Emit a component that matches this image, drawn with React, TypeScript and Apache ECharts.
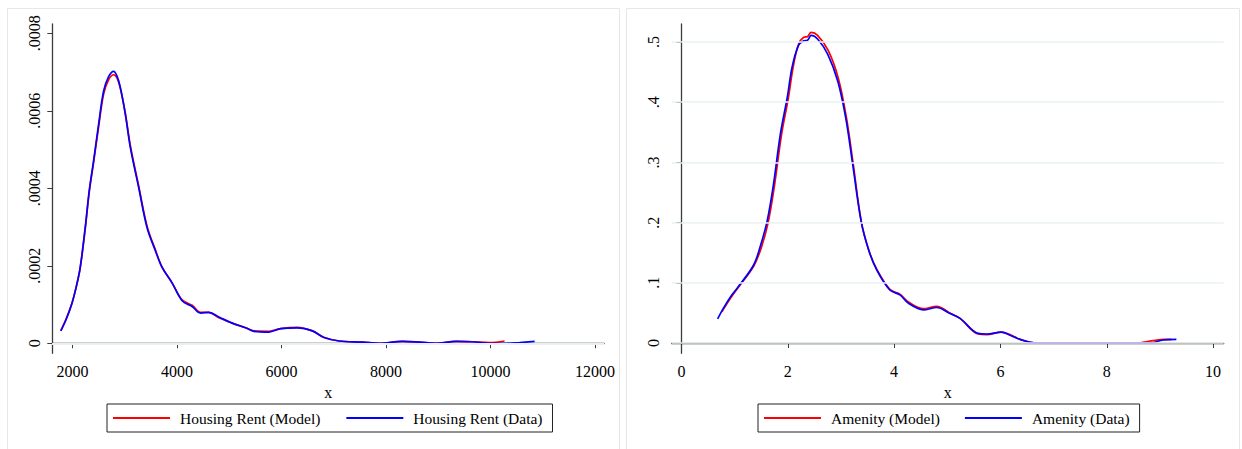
import React, { useEffect, useRef } from "react";
import * as echarts from "echarts";

// ---- Data ----
const rentXTicks = [2000, 4000, 6000, 8000, 10000, 12000];
const rentYTicks = [0, 0.0002, 0.0004, 0.0006, 0.0008];
const rentYLabels = ["0", ".0002", ".0004", ".0006", ".0008"];

const amenityXTicks = [0, 2, 4, 6, 8, 10];
const amenityYTicks = [0, 0.1, 0.2, 0.3, 0.4, 0.5];
const amenityYLabels = ["0", ".1", ".2", ".3", ".4", ".5"];

const housingRentData: number[][] = [
  [1776, 3.2e-5], [1880, 6.2e-5], [1987, 1.02e-4], [2070, 1.45e-4], [2147, 1.96e-4],
  [2243, 2.99e-4], [2320, 3.94e-4], [2403, 4.71e-4], [2499, 5.65e-4], [2595, 6.51e-4],
  [2690, 6.88e-4], [2786, 7.02e-4], [2850, 6.9e-4], [2915, 6.6e-4], [3011, 5.91e-4],
  [3107, 5.05e-4], [3266, 4.02e-4], [3425, 2.99e-4], [3586, 2.39e-4], [3713, 1.96e-4],
  [3905, 1.56e-4], [4097, 1.1e-4], [4288, 9.5e-5], [4449, 7.8e-5], [4608, 8.0e-5],
  [4800, 6.8e-5], [5056, 5.2e-5], [5312, 4.0e-5], [5472, 3.1e-5], [5759, 2.9e-5],
  [5984, 3.8e-5], [6302, 4.0e-5], [6590, 3.2e-5], [6814, 1.5e-5], [7102, 6e-6],
  [7549, 3e-6], [7869, 0], [8316, 5e-6], [8636, 3e-6], [8956, 0], [9340, 5e-6],
  [9659, 4e-6], [9979, 0], [10300, 0], [10555, 2e-6], [10843, 5e-6],
];

const housingRentModel: number[][] = [
  [1776, 3.3e-5], [1880, 6.4e-5], [1987, 1.03e-4], [2070, 1.45e-4], [2147, 1.94e-4],
  [2243, 2.95e-4], [2320, 3.9e-4], [2403, 4.66e-4], [2499, 5.58e-4], [2595, 6.43e-4],
  [2690, 6.8e-4], [2786, 6.93e-4], [2850, 6.85e-4], [2915, 6.58e-4], [3011, 5.93e-4],
  [3107, 5.1e-4], [3266, 4.06e-4], [3425, 3.03e-4], [3586, 2.41e-4], [3713, 1.97e-4],
  [3905, 1.56e-4], [4097, 1.12e-4], [4288, 9.8e-5], [4449, 8.0e-5], [4608, 8.0e-5],
  [4800, 6.6e-5], [5056, 5.2e-5], [5312, 4.0e-5], [5472, 3.2e-5], [5759, 3.1e-5],
  [5984, 3.8e-5], [6302, 4.1e-5], [6590, 3.2e-5], [6814, 1.5e-5], [7102, 6e-6],
  [7549, 3e-6], [7869, 0], [8316, 5e-6], [8636, 3e-6], [8956, 0], [9340, 5e-6],
  [9659, 4e-6], [9979, 2e-6], [10267, 6e-6],
];

const amenityData: number[][] = [
  [0.68, 0.04], [0.79, 0.058], [0.95, 0.08], [1.1, 0.097], [1.36, 0.13], [1.48, 0.16],
  [1.61, 0.202], [1.73, 0.263], [1.86, 0.347], [1.99, 0.408], [2.08, 0.458], [2.2, 0.494],
  [2.3, 0.502], [2.37, 0.503], [2.44, 0.511], [2.56, 0.505], [2.75, 0.48], [2.94, 0.435],
  [3.09, 0.374], [3.22, 0.297], [3.38, 0.202], [3.52, 0.155], [3.67, 0.122], [3.92, 0.088],
  [4.11, 0.08], [4.27, 0.066], [4.55, 0.055], [4.8, 0.059], [5.05, 0.049], [5.24, 0.041],
  [5.58, 0.016], [5.74, 0.015], [6.02, 0.018], [6.18, 0.013], [6.37, 0.006], [6.68, 0],
  [8.62, 0], [8.81, 0], [9.06, 0.005], [9.31, 0.006],
];

const amenityModel: number[][] = [
  [0.76, 0.052], [0.95, 0.078], [1.1, 0.096], [1.36, 0.128], [1.5, 0.158],
  [1.63, 0.2], [1.75, 0.262], [1.88, 0.345], [2.01, 0.407], [2.1, 0.458], [2.2, 0.496],
  [2.3, 0.508], [2.37, 0.509], [2.44, 0.516], [2.56, 0.511], [2.76, 0.486], [2.95, 0.44],
  [3.1, 0.376], [3.23, 0.298], [3.38, 0.203], [3.52, 0.155], [3.67, 0.123], [3.92, 0.089],
  [4.11, 0.081], [4.27, 0.068], [4.55, 0.057], [4.8, 0.061], [5.05, 0.05], [5.24, 0.041],
  [5.58, 0.015], [5.74, 0.014], [6.02, 0.018], [6.18, 0.014], [6.37, 0.006], [6.68, 0],
  [8.62, 0], [8.68, 0.001], [8.87, 0.004], [9.09, 0.006], [9.22, 0.006],
];

const FONT = "Liberation Serif";

function labelFor(ticks: number[], labels: string[]) {
  return (v: number) => {
    for (let i = 0; i < ticks.length; i++) {
      if (Math.abs(ticks[i] - v) < 1e-9) return labels[i];
    }
    return String(v);
  };
}

const axisLineStyle = { color: "#3c3c3c", width: 1.3 };

export default function App() {
  const ref = useRef<HTMLDivElement>(null);
  useEffect(() => {
    if (!ref.current) return;
    const chart = echarts.init(ref.current, undefined, { renderer: "svg" });
    const line = (name: string, data: number[][], color: string, xi: number, z: number) => ({
      name,
      type: "line",
      xAxisIndex: xi,
      yAxisIndex: xi,
      data,
      symbol: "none",
      smooth: 0.35,
      z,
      lineStyle: { color, width: 1.7 },
      itemStyle: { color },
    });
    const gridSeries = (xi: number, ticks: number[]) => ({
      type: "line",
      xAxisIndex: xi,
      yAxisIndex: xi,
      data: [],
      z: 1,
      silent: true,
      markLine: {
        silent: true,
        symbol: "none",
        label: { show: false },
        lineStyle: { color: "#eaf0f2", width: 1.5, type: "solid" },
        data: ticks.map((t) => ({ yAxis: t })),
      },
    });
    const xAxisCommon = {
      type: "value",
      name: "x",
      nameLocation: "middle",
      nameGap: 21,
      nameTextStyle: { fontFamily: FONT, fontSize: 16, color: "#000" },
      splitLine: { show: false },
      axisLine: { lineStyle: axisLineStyle },
      axisTick: { length: 5, lineStyle: { color: "#3c3c3c", width: 1 } },
    };
    const yAxisCommon = {
      type: "value",
      splitLine: { show: false },
      axisLine: { show: true, lineStyle: axisLineStyle },
      axisTick: { show: true, length: 5, lineStyle: { color: "#3c3c3c", width: 1 } },
    };
    const legendCommon = {
      orient: "horizontal",
      top: 404,
      icon: "rect",
      itemWidth: 57,
      itemHeight: 2,
      itemGap: 26,
      padding: [6, 10, 6, 6],
      borderColor: "#222",
      borderWidth: 1,
      selectedMode: false,
      textStyle: { fontFamily: FONT, fontSize: 15.5, color: "#000", padding: [0, 0, 0, 5] },
    };
    chart.setOption({
      animation: false,
      backgroundColor: "#fff",
      graphic: [
        { type: "rect", shape: { x: 7.5, y: 8.5, width: 612, height: 445 }, style: { fill: "none", stroke: "#e3e9eb", lineWidth: 1 }, silent: true },
        { type: "rect", shape: { x: 626.5, y: 8.5, width: 613, height: 445 }, style: { fill: "none", stroke: "#e3e9eb", lineWidth: 1 }, silent: true },
      ],
      grid: [
        { left: 52.3, top: 24, width: 551.7, height: 329.3, containLabel: false },
        { left: 671.7, top: 24, width: 552, height: 329.3, containLabel: false },
      ],
      legend: [
        { ...legendCommon, left: 107, data: ["Housing Rent (Model)", "Housing Rent (Data)"] },
        { ...legendCommon, left: 758, itemGap: 25, data: ["Amenity (Model)", "Amenity (Data)"] },
      ],
      xAxis: [
        {
          ...xAxisCommon,
          gridIndex: 0,
          min: 1613,
          max: 12170,
          axisTick: { ...xAxisCommon.axisTick, customValues: rentXTicks },
          axisLabel: { customValues: rentXTicks, margin: 10, fontFamily: FONT, fontSize: 16, color: "#000", formatter: (v: number) => String(v) },
        },
        {
          ...xAxisCommon,
          gridIndex: 1,
          min: -0.184,
          max: 10.2,
          axisTick: { ...xAxisCommon.axisTick, customValues: amenityXTicks },
          axisLabel: { customValues: amenityXTicks, margin: 10, fontFamily: FONT, fontSize: 16, color: "#000", formatter: (v: number) => String(v) },
        },
      ],
      yAxis: [
        {
          ...yAxisCommon,
          gridIndex: 0,
          min: -0.0000258,
          max: 0.000824,
          axisTick: { ...yAxisCommon.axisTick, customValues: rentYTicks },
          axisLabel: {
            customValues: rentYTicks,
            rotate: 90,
            margin: 10,
            fontFamily: FONT,
            fontSize: 16,
            color: "#000",
            formatter: labelFor(rentYTicks, rentYLabels),
          },
        },
        {
          ...yAxisCommon,
          gridIndex: 1,
          min: -0.0171,
          max: 0.53,
          axisTick: { ...yAxisCommon.axisTick, customValues: amenityYTicks },
          axisLabel: {
            customValues: amenityYTicks,
            rotate: 90,
            margin: 10,
            fontFamily: FONT,
            fontSize: 16,
            color: "#000",
            formatter: labelFor(amenityYTicks, amenityYLabels),
          },
        },
      ],
      series: [
        gridSeries(0, rentYTicks),
        gridSeries(1, amenityYTicks),
        line("Housing Rent (Model)", housingRentModel, "#ff0000", 0, 3),
        line("Housing Rent (Data)", housingRentData, "#0000ff", 0, 4),
        line("Amenity (Model)", amenityModel, "#ff0000", 1, 3),
        line("Amenity (Data)", amenityData, "#0000ff", 1, 4),
      ],
    });
    return () => chart.dispose();
  }, []);
  return (
    <div
      ref={ref}
      style={{ position: "absolute", left: 0, top: 0, width: 1242, height: 449 }}
    />
  );
}
